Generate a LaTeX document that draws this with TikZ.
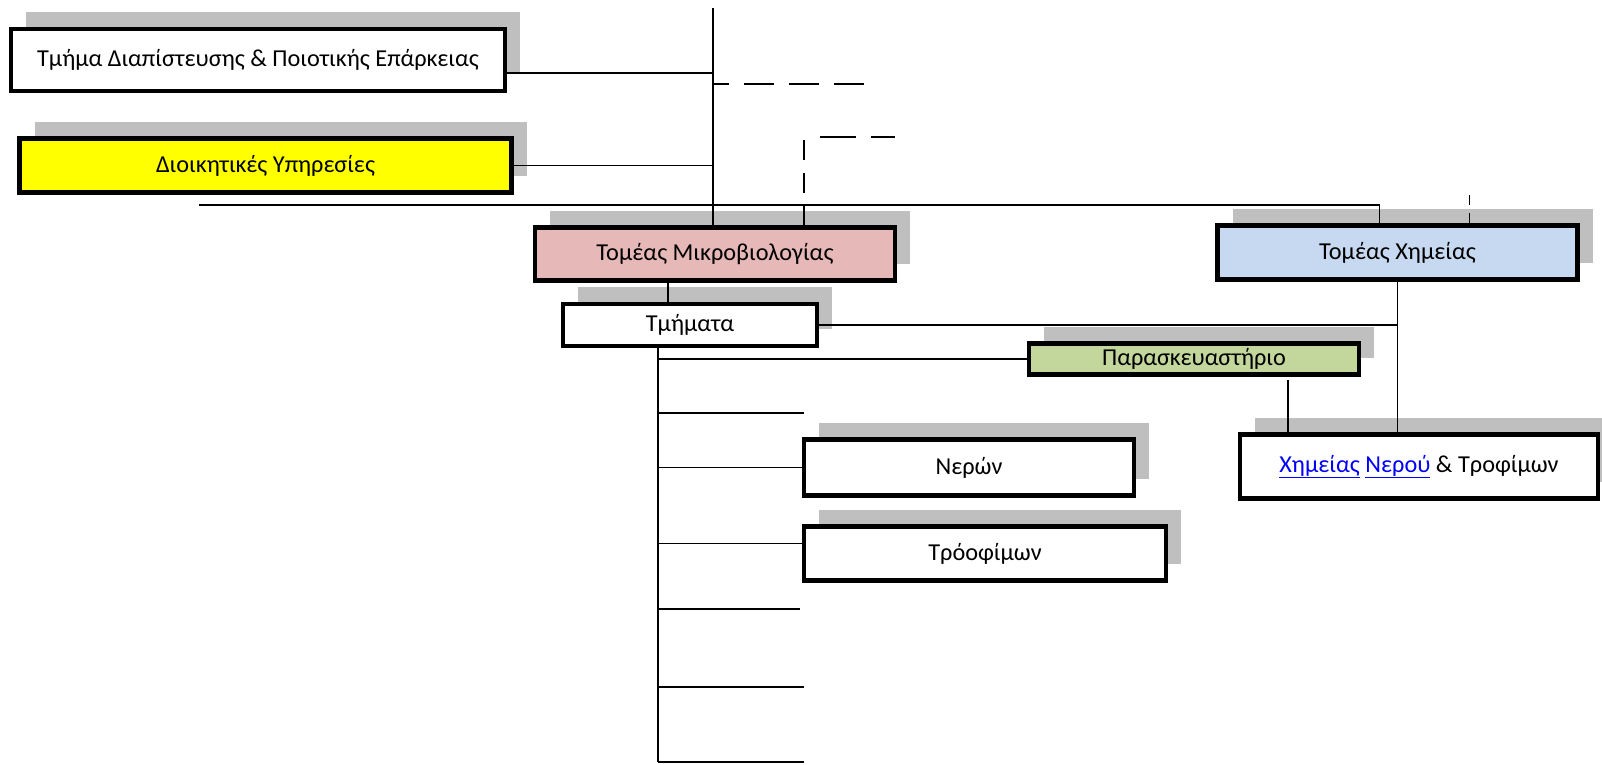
\documentclass[tikz,border=0pt]{standalone}
\usepackage{fontspec}
\setmainfont{Carlito}
\usetikzlibrary{shadows}

\definecolor{microfill}{RGB}{230,184,183}
\definecolor{chemfill}{RGB}{198,217,241}
\definecolor{prepfill}{RGB}{195,214,155}
\definecolor{adminfill}{RGB}{255,255,0}
\definecolor{shadowgray}{RGB}{191,191,191}
\definecolor{linkblue}{RGB}{0,0,255}

\newcommand{\linktext}[1]{\textcolor{linkblue}{\underline{#1}}}

\tikzset{
  unitbox/.style={draw, line width=4.5pt, fill=white, inner sep=0pt,
    font=\fontsize{24.3}{29}\selectfont,
    general shadow={shadow xshift=15pt, shadow yshift=17pt, fill=shadowgray}},
  link/.style={line width=1.5pt},
  dashlink/.style={line width=1.5pt, dash pattern=on 30pt off 15pt}
}

\begin{document}
\begin{tikzpicture}[x=1pt,y=-1pt]
\useasboundingbox (0,0) rectangle (1602,764);

% left column
\node[unitbox, minimum width=494pt, minimum height=62pt] (accred) at (258,60) {Τμήμα Διαπίστευσης \& Ποιοτικής Επάρκειας};
\node[unitbox, fill=adminfill, minimum width=492pt, minimum height=54pt] (admin) at (265.5,165.5) {Διοικητικές Υπηρεσίες};

% sectors
\node[unitbox, fill=microfill, minimum width=360pt, minimum height=53pt] (micro) at (715,254) {Τομέας Μικροβιολογίας};
\node[unitbox, minimum width=254pt, minimum height=42pt] (tmi) at (690,325) {Τμήματα};
\node[unitbox, fill=chemfill, minimum width=360pt, minimum height=54pt] (chem) at (1397.5,252.5) {Τομέας Χημείας};
\node[unitbox, fill=prepfill, minimum width=330pt, minimum height=31pt] (par) at (1194,359) {Παρασκευαστήριο};
\node[unitbox, minimum width=358pt, minimum height=64pt] (xhm) at (1419,466.5) {\linktext{Χημείας} \linktext{Νερού} \& Τροφίμων};
\node[unitbox, minimum width=330pt, minimum height=56pt] (nero) at (969,467.5) {Νερών};
\node[unitbox, minimum width=362pt, minimum height=54pt] (tro) at (985,553.5) {Τρόοφίμων};

% spine and bus
\coordinate (spine) at (713,8);
\coordinate (busL) at (199,205);
\coordinate (accredout) at ([yshift=-13pt]accred.east);
\draw[link] (spine) -- (spine |- micro.north);
\draw[link] (accredout) -- (accredout -| spine);
\draw[link] (admin.east) -- (admin.east -| spine);
\draw[link] (busL) -- ([xshift=-18pt]chem.north |- busL) -- ([xshift=-18pt]chem.north);

% dashed links
\coordinate (dashA) at (864,84);
\coordinate (dashB) at (895,137);
\coordinate (microdrop) at ([xshift=89pt]micro.north);
\draw[dashlink] (dashA) -- (dashA -| spine);
\draw[link, dash pattern=on 24pt off 15pt on 36pt off 19pt on 20pt off 13pt on 20pt off 12pt]
  (dashB) -- (dashB -| microdrop) -- (microdrop |- busL);
\draw[link] (microdrop |- busL) -- (microdrop);
\draw[link, dash pattern=on 10pt off 8pt] ([xshift=72pt]chem.north) -- ++(0,-32);

% microbiology branch
\draw[link] ([xshift=-47pt]micro.south) -- ([xshift=-47pt]micro.south |- tmi.north);
\coordinate (trunk) at ([xshift=-32pt]tmi.south);
\coordinate (trunkend) at (658,762);
\draw[link] (trunk) -- (trunk |- trunkend);
\draw[link] (trunk |- par.west) -- (par.west);
\draw[link] (trunk |- nero.west) -- (nero.west);
\coordinate (troin) at ([yshift=10pt]tro.west);
\draw[link] (troin -| trunk) -- (troin);
\foreach \yy/\xe [count=\i] in {413/804, 609/800, 687/804, 762/804} {
  \coordinate (stub\i) at (\xe,\yy);
  \draw[link] (stub\i -| trunk) -- (stub\i);
}

% chemistry branch
\draw[link] (tmi.east) -- (tmi.east -| chem.south);
\draw[link] (chem.south) -- (chem.south |- xhm.north);
\coordinate (parout) at ([xshift=94pt,yshift=-3pt]par.south);
\draw[link] (parout) -- (parout |- xhm.north);
\end{tikzpicture}
\end{document}
